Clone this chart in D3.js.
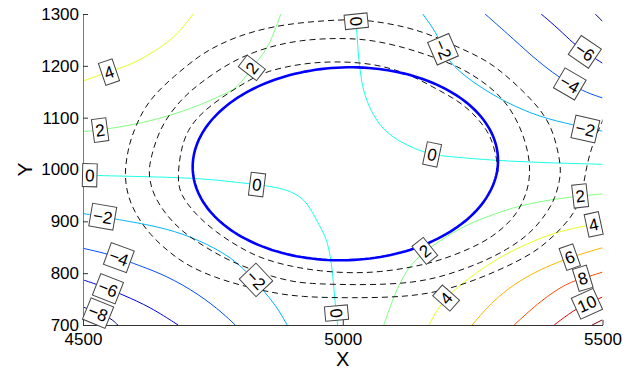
<!DOCTYPE html>
<html>
<head>
<meta charset="utf-8">
<script src="https://cdn.jsdelivr.net/npm/d3@7"></script>
<style>
  body { margin: 0; background: #fff; }
  svg { display: block; }
  text { font-family: "Liberation Sans", Arial, Helvetica, sans-serif; }
</style>
</head>
<body>
<svg id="chart" width="634" height="372"></svg>
<script>
// axis ticks
const xTicks = [4500, 5000, 5500];
const yTicks = [700, 800, 900, 1000, 1100, 1200, 1300];
const levels = [-8, -6, -4, -2, 0, 2, 4, 6, 8, 10, 12];

// contour lines, [x, y]
const yellowUL = [[4500,1171],[4550,1188],[4596,1204],[4629,1223],[4662,1244],[4687,1267],[4712,1300]];
const greenUL = [[4500,1073],[4533,1076],[4596,1086],[4662,1102],[4725,1124],[4764,1142],[4789,1153],[4806,1169],[4825,1196],[4854,1231],[4868,1265],[4881,1300]];
const cyanLL = [[4500,989],[4629,986],[4725,983],[4789,976],[4835,971],[4885,964],[4918,949],[4937,928],[4956,889],[4968,870],[4979,822],[4985,744],[4990,700]];
const cyanUR = [[5024,1300],[5027,1271],[5029,1231],[5036,1163],[5049,1124],[5068,1088],[5097,1061],[5124,1047],[5149,1036],[5172,1029],[5201,1025],[5297,1017],[5393,1013],[5500,1010]];
const skyUR = [[5154,1300],[5181,1263],[5193,1232],[5206,1205],[5251,1167],[5316,1128],[5380,1101],[5443,1086],[5500,1074]];
const blueUR = [[5274,1300],[5316,1263],[5366,1217],[5405,1186],[5437,1165],[5470,1148],[5500,1138]];
const darkUR = [[5382,1300],[5418,1269],[5443,1244],[5466,1227],[5500,1205]];
const navyUR = [[5486,1300],[5500,1286]];
const skyLL = [[4500,915],[4538,909],[4564,904],[4629,893],[4692,877],[4756,848],[4795,822],[4821,796],[4846,768],[4872,737],[4893,700]];
const blueLL = [[4500,848],[4544,838],[4569,830],[4596,819],[4660,796],[4725,758],[4769,723],[4793,700]];
const darkLL = [[4500,787],[4519,781],[4548,770],[4577,758],[4629,735],[4683,700]];
const navyLL = [[4500,735],[4529,723],[4554,713],[4567,700]];
const greenLR = [[5079,700],[5099,758],[5124,810],[5158,843],[5201,872],[5249,899],[5330,928],[5393,941],[5457,949],[5500,953]];
const yellowLR = [[5166,700],[5181,729],[5199,752],[5220,773],[5297,831],[5393,874],[5445,887],[5483,894],[5500,899]];
const orangeLR = [[5249,700],[5297,756],[5362,800],[5437,831],[5500,849]];
const redOrLR = [[5330,700],[5382,748],[5432,781],[5462,790],[5500,802]];
const redLR = [[5407,700],[5445,729],[5470,741],[5500,754]];
const darkRedLR = [[5480,700],[5500,710]];

// contour labels: [level, x, y]
const labels = [
  [4,4550,1188],[2,4533,1076],[0,4513,989],[-2,4538,909],[-4,4569,830],[-6,4548,770],[-8,4529,723],
  [2,4825,1196],[0,5026,1286],[0,4835,971],[-2,4833,787],[0,4988,723],[2,5158,843],[4,5199,752],
  [-2,5193,1232],[0,5172,1029],[-6,5466,1227],[-4,5437,1165],[-2,5467,1078],
  [2,5457,949],[4,5483,894],[6,5437,831],[8,5462,790],[10,5470,741]
];

// blue closed curve: centre, semi-axes (data units), tilt (degrees, anticlockwise on screen)
const cycleCenter = [5005, 1011];
const cycleRadii = [294, 186];
const cycleTilt = 2;

// dashed trajectory spiralling in to the blue curve
const spiral = [[5518,1134],[5499,1092],[5480,1047],[5469,1005],[5462,960],[5449,918],[5412,877],[5372,841],
  [5303,806],[5220,773],[5137,754],[5014,752],[4918,754],[4860,763],[4802,777],[4756,791],[4706,812],[4667,839],
  [4629,874],[4602,912],[4585,951],[4580,993],[4585,1028],[4592,1061],[4615,1115],[4641,1148],[4673,1178],
  [4725,1221],[4764,1242],[4808,1261],[4885,1281],[5000,1290],[5052,1288],[5124,1275],[5174,1258],[5222,1236],
  [5264,1217],[5297,1196],[5335,1163],[5374,1124],[5399,1088],[5412,1047],[5420,1005],[5418,980],[5409,945],
  [5393,916],[5362,877],[5316,845],[5266,820],[5201,796],[5137,781],[5047,777],[4950,779],[4904,783],[4860,795],
  [4833,804],[4783,823],[4737,849],[4692,879],[4660,912],[4635,951],[4626,989],[4629,1018],[4648,1082],
  [4687,1134],[4725,1167],[4789,1211],[4854,1236],[4918,1250],[4995,1254],[5058,1250],[5124,1234],[5168,1219],
  [5220,1200],[5266,1173],[5306,1140],[5333,1101],[5351,1057],[5361,1013],[5359,970],[5345,932],[5326,903],
  [5289,870],[5245,847],[5189,825],[5137,812],[5072,802],[5014,800],[4956,804],[4904,812],[4846,827],[4802,849],
  [4756,879],[4718,912],[4687,951],[4682,984],[4687,1032],[4700,1076],[4731,1113],[4783,1150],[4821,1173],
  [4854,1190],[4918,1204],[4981,1209],[5058,1205],[5124,1186],[5174,1159],[5220,1134],[5251,1109],[5278,1076],
  [5289,1051],[5297,1018],[5299,995]];

const contourLines = [
  {level: 4, pts: yellowUL}, {level: 2, pts: greenUL}, {level: 0, pts: cyanLL}, {level: 0, pts: cyanUR},
  {level: -2, pts: skyUR}, {level: -4, pts: blueUR}, {level: -6, pts: darkUR}, {level: -8, pts: navyUR},
  {level: -2, pts: skyLL}, {level: -4, pts: blueLL}, {level: -6, pts: darkLL}, {level: -8, pts: navyLL},
  {level: 2, pts: greenLR}, {level: 4, pts: yellowLR}, {level: 6, pts: orangeLR}, {level: 8, pts: redOrLR},
  {level: 10, pts: redLR}, {level: 12, pts: darkRedLR}
];

const svg = d3.select("#chart");
const plotLeft = 83, plotRight = 602.5, plotTop = 14, plotBottom = 325;

const x = d3.scaleLinear().domain([4500, 5500]).range([plotLeft, plotRight]);
const y = d3.scaleLinear().domain([700, 1300]).range([plotBottom, plotTop]);

// jet colormap over the levels
const jet = d3.scaleLinear()
  .domain([0, 0.125, 0.375, 0.625, 0.875, 1])
  .range(["#000080", "#0000ff", "#00ffff", "#ffff00", "#ff0000", "#800000"]);
const levelT = d3.scaleLinear().domain(d3.extent(levels)).range([0, 1]);
const color = lv => jet(levelT(lv));

svg.append("clipPath").attr("id", "plot")
  .append("rect")
  .attr("x", plotLeft).attr("y", plotTop)
  .attr("width", plotRight - plotLeft).attr("height", plotBottom - plotTop);

const line = d3.line()
  .x(d => x(d[0]))
  .y(d => y(d[1]))
  .curve(d3.curveBasis);

const plot = svg.append("g").attr("clip-path", "url(#plot)");

plot.selectAll("path.contour")
  .data(contourLines)
  .enter()
  .append("path")
  .attr("class", "contour")
  .attr("d", d => line(d.pts))
  .attr("fill", "none")
  .attr("stroke", d => color(d.level))
  .attr("stroke-width", 1);

plot.append("path")
  .attr("d", line(spiral))
  .attr("fill", "none")
  .attr("stroke", "#111")
  .attr("stroke-width", 1)
  .attr("stroke-dasharray", "6,4");

// ellipse outline in screen space
const cx = x(cycleCenter[0]), cy = y(cycleCenter[1]);
const rxp = x(cycleCenter[0] + cycleRadii[0]) - cx;
const ryp = cy - y(cycleCenter[1] + cycleRadii[1]);
const th = cycleTilt * Math.PI / 180;
const ellipsePts = d3.range(0, 2 * Math.PI, Math.PI / 90).map(t => {
  const u = rxp * Math.cos(t), v = ryp * Math.sin(t);
  return [cx + u * Math.cos(th) + v * Math.sin(th), cy - u * Math.sin(th) + v * Math.cos(th)];
});

plot.append("path")
  .attr("d", d3.line().curve(d3.curveLinearClosed)(ellipsePts))
  .attr("fill", "none")
  .attr("stroke", "#0000ff")
  .attr("stroke-width", 2.6);

// axes
const yAxis = svg.append("g")
  .attr("transform", "translate(" + plotLeft + ",0)")
  .call(d3.axisLeft(y).tickValues(yTicks).tickFormat(d3.format("d"))
    .tickSizeInner(-5).tickSizeOuter(0).tickPadding(4));
const xAxis = svg.append("g")
  .attr("transform", "translate(0," + plotBottom + ")")
  .call(d3.axisBottom(x).tickValues(xTicks).tickFormat(d3.format("d"))
    .tickSizeInner(-5).tickSizeOuter(0).tickPadding(8));

[yAxis, xAxis].forEach(g => {
  g.attr("font-family", null).attr("font-size", null);
  g.selectAll("text").attr("fill", "#000").style("font-size", "17px");
  g.selectAll(".tick line").attr("stroke", "#333");
});
yAxis.select(".domain").attr("stroke", "#7a7a7a");
xAxis.select(".domain").attr("stroke", "#333");

svg.append("text")
  .attr("x", x(5000)).attr("y", 366)
  .attr("text-anchor", "middle")
  .style("font-size", "20px")
  .text("X");

svg.append("text")
  .attr("transform", "translate(32," + y(1000) + ") rotate(-90)")
  .attr("text-anchor", "middle")
  .style("font-size", "21px")
  .text("Y");

// labels follow the direction of their line
function labelAngle(lab) {
  let best = null;
  contourLines.filter(c => c.level === lab[0]).forEach(c => {
    c.pts.forEach((p, i) => {
      const dist = Math.hypot(x(p[0]) - x(lab[1]), y(p[1]) - y(lab[2]));
      if (!best || dist < best.dist) best = {dist, pts: c.pts, i};
    });
  });
  const a = best.pts[Math.max(best.i - 1, 0)];
  const b = best.pts[Math.min(best.i + 1, best.pts.length - 1)];
  let ang = Math.atan2(y(b[1]) - y(a[1]), x(b[0]) - x(a[0])) * 180 / Math.PI;
  if (ang > 90) ang -= 180;
  if (ang <= -90) ang += 180;
  return ang;
}

const labelG = svg.selectAll("g.clabel")
  .data(labels)
  .enter()
  .append("g")
  .attr("class", "clabel")
  .attr("transform", d => "translate(" + x(d[1]) + "," + y(d[2]) + ") rotate(" + labelAngle(d) + ")");

labelG.append("rect");
labelG.append("text")
  .attr("text-anchor", "middle")
  .attr("dy", "0.36em")
  .style("font-size", "17px")
  .text(d => (d[0] < 0 ? "\u2212" : "") + Math.abs(d[0]));

labelG.each(function() {
  const g = d3.select(this);
  const w = g.select("text").node().getComputedTextLength() + 5;
  const h = 23;
  g.select("rect")
    .attr("x", -w / 2).attr("y", -h / 2)
    .attr("width", w).attr("height", h)
    .attr("fill", "#fff")
    .attr("stroke", "#444")
    .attr("stroke-width", 1);
});
</script>
</body>
</html>
